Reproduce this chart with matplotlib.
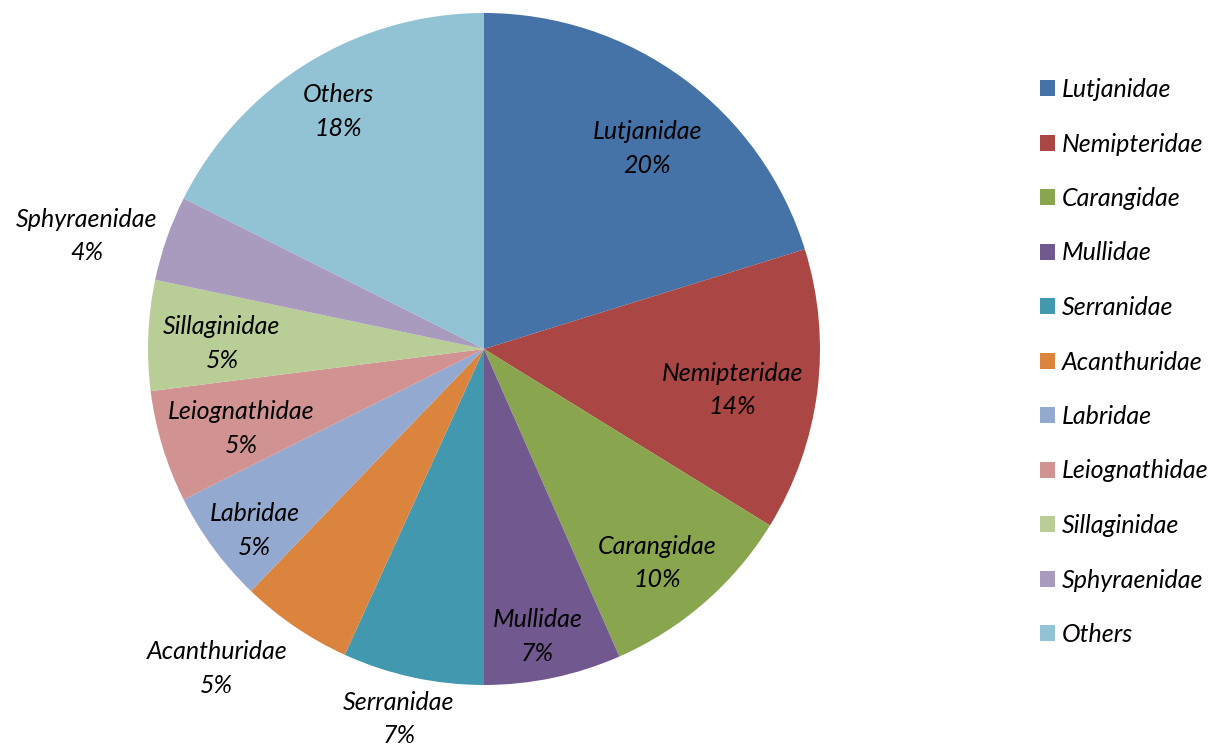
import matplotlib.pyplot as plt
import numpy as np

# data
families = ['Lutjanidae', 'Nemipteridae', 'Carangidae', 'Mullidae', 'Serranidae',
            'Acanthuridae', 'Labridae', 'Leiognathidae', 'Sillaginidae',
            'Sphyraenidae', 'Others']
shares = [20.2, 13.6, 9.6, 6.6, 6.8, 5.4, 5.4, 5.4, 5.3, 4.1, 17.6]
colors = ['#4572A7', '#AA4643', '#89A54E', '#71588F', '#4198AF', '#DB843D',
          '#93A9CF', '#D19392', '#B9CD96', '#A99BBD', '#92C3D4']
# label placement: radius (fraction of pie radius) and angle nudge (deg, clockwise)
label_r = [0.77, 0.75, 0.82, 0.87, 1.13, 1.24, 0.87, 0.76, 0.78, 1.23, 0.83]
label_nudge = [2.8, 2.2, 2.0, 1.3, 0.7, 5.7, -2.0, -1.2, -1.2, -3.4, 0.1]

plt.rcParams['font.family'] = ['Lato', 'DejaVu Sans']
FS = 18

W, H = 1217, 748
fig = plt.figure(figsize=(W / 100, H / 100), dpi=100)
cx, cy, R = 484, 349, 336
ax = fig.add_axes([(cx - R) / W, (H - cy - R) / H, 2 * R / W, 2 * R / H])

wedges, _ = ax.pie(shares, colors=colors, startangle=90, counterclock=False,
                   wedgeprops=dict(linewidth=0))
ax.set_xlim(-1, 1)
ax.set_ylim(-1, 1)
ax.set_aspect('auto')
ax.axis('off')

total = sum(shares)
for w, name, v, r, dn in zip(wedges, families, shares, label_r, label_nudge):
    mid = np.deg2rad((w.theta1 + w.theta2) / 2 - dn)
    x, y = r * np.cos(mid), r * np.sin(mid)
    pct = round(100 * v / total)
    ax.text(x, y, f'{name}\n{pct}%', ha='center', va='center', fontsize=FS,
            style='italic', linespacing=1.56, color='black', clip_on=False)

fig.legend(wedges, families, loc='upper left', bbox_to_anchor=(1040 / W, 1 - 78 / H),
           frameon=False, prop=dict(size=FS, style='italic'),
           handlelength=0.6, handleheight=0.6, handletextpad=0.28,
           labelspacing=1.26, borderaxespad=0, borderpad=0)

fig.savefig('out.png', dpi=100)
